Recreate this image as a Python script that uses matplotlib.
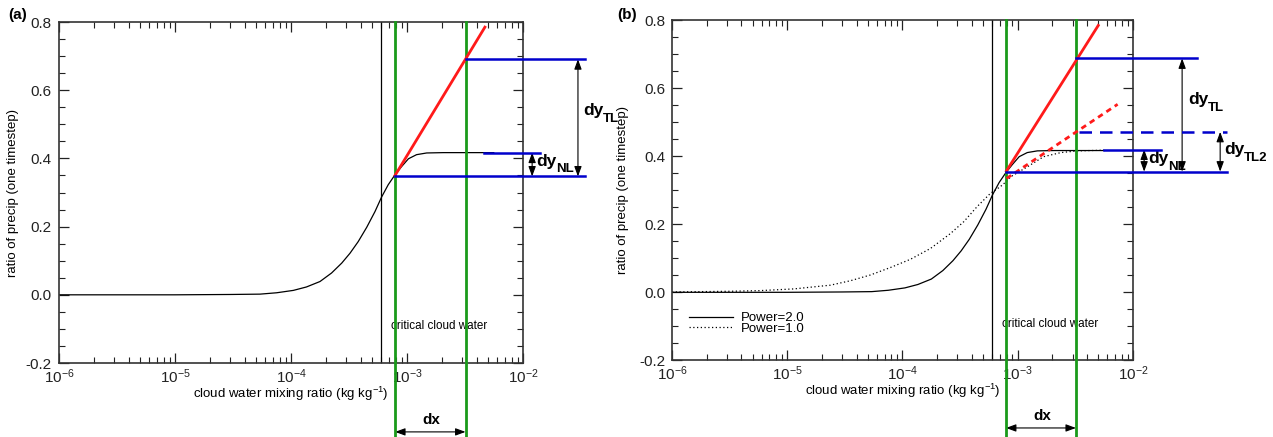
import matplotlib
matplotlib.use('Agg')
import matplotlib.pyplot as plt
from matplotlib.ticker import MultipleLocator, LogLocator

plt.rcParams['font.family'] = ['Liberation Sans', 'DejaVu Sans']
plt.rcParams['mathtext.fontset'] = 'custom'
plt.rcParams['mathtext.rm'] = 'Liberation Sans'
plt.rcParams['mathtext.it'] = 'Liberation Sans:italic'
plt.rcParams['mathtext.bf'] = 'Liberation Sans:bold'
plt.rcParams['axes.unicode_minus'] = False

# power=2 curve
q_pow2 = [1e-6, 1e-5, 3.0e-5, 5.41e-5, 7.53e-5, 1.05e-4, 1.36e-4, 1.78e-4, 2.24e-4,
          2.74e-4, 3.23e-4, 3.80e-4, 4.50e-4, 5.30e-4, 6.05e-4, 6.90e-4, 7.89e-4,
          8.99e-4, 1.03e-3, 1.21e-3, 1.48e-3, 2.06e-3, 4.55e-3, 5.6e-3]
r_pow2 = [0.0, 0.0, 0.001, 0.002, 0.006, 0.013, 0.023, 0.039, 0.064,
          0.093, 0.122, 0.156, 0.198, 0.244, 0.287, 0.323, 0.352,
          0.376, 0.399, 0.411, 0.416, 0.417, 0.417, 0.417]

# power=1 curve (panel b)
q_pow1 = [1e-6, 3.16e-6, 5.82e-6, 1.14e-5, 2.37e-5, 3.53e-5, 5.27e-5, 7.87e-5,
          1.17e-4, 1.75e-4, 2.61e-4, 3.41e-4, 4.44e-4, 5.79e-4, 7.08e-4, 8.09e-4,
          8.69e-4, 1.21e-3, 1.68e-3, 2.37e-3, 3.30e-3, 5.6e-3]
r_pow1 = [0.001, 0.003, 0.005, 0.010, 0.021, 0.034, 0.051, 0.073,
          0.097, 0.129, 0.173, 0.208, 0.252, 0.291, 0.311, 0.328,
          0.340, 0.369, 0.399, 0.411, 0.416, 0.418]

q_crit = 6.0e-4          # critical cloud water
q_x0 = 7.9e-4            # left green line
q_x1 = 3.2e-3            # right green line

# tangent lines: (x start, x end), (y start, y end)
tl_a = ([7.89e-4, 4.7e-3], [0.350, 0.785])
tl_b = ([7.98e-4, 5.0e-3], [0.357, 0.785])
tl2_b = ([8.0e-4, 7.36e-3], [0.335, 0.553])

# levels
y_base_a, y_tl_a, y_nl_a = 0.347, 0.691, 0.417
y_base_b, y_tl_b, y_nl_b, y_tl2_b = 0.355, 0.688, 0.420, 0.472

RED = '#ff1a1a'
BLUE = '#0000cc'
GREEN = '#1a9a1a'


def setup(ax):
    ax.set_xscale('log')
    ax.set_xlim(1e-6, 1e-2)
    ax.set_ylim(-0.2, 0.8)
    ax.yaxis.set_major_locator(MultipleLocator(0.2))
    ax.yaxis.set_minor_locator(MultipleLocator(0.05))
    ax.xaxis.set_major_locator(LogLocator(base=10, numticks=10))
    ax.xaxis.set_minor_locator(LogLocator(base=10, subs=range(2, 10), numticks=10))
    ax.tick_params(which='both', direction='in', top=True, right=True, labelsize=11,
                   colors='#222222')
    ax.tick_params(which='major', length=7, width=0.9)
    ax.tick_params(which='minor', length=4, width=0.8)
    ax.tick_params(axis='x', pad=3)
    ax.tick_params(axis='y', pad=5)
    for s in ax.spines.values():
        s.set_linewidth(1.2)
        s.set_color('#333333')
    ax.set_xlabel('cloud water mixing ratio (kg kg$^{-1}$)', fontsize=9.5)
    ax.set_ylabel('ratio of precip (one timestep)', fontsize=9.5)
    ax.xaxis.set_label_coords(0.5, -0.063)


def arrow(ax, p1, p2):
    ax.annotate('', xy=p1, xytext=p2, annotation_clip=False,
                arrowprops=dict(arrowstyle='<|-|>,head_length=0.6,head_width=0.22',
                                color='k', lw=0.8, shrinkA=0, shrinkB=0))


def dylabel(ax, x, y, sub):
    ax.text(x, y, 'dy', fontsize=12.5, fontweight='bold', ha='left', va='center',
            clip_on=False)
    ax.annotate(sub, xy=(x, y), xytext=(14.5, -6), textcoords='offset points',
                fontsize=9.5, fontweight='bold', ha='left', va='center',
                annotation_clip=False)


def common(ax, tl, dx_y):
    ax.plot([q_crit, q_crit], [-0.2, 0.8], color='k', lw=0.9)
    for xg in (q_x0, q_x1):
        ax.plot([xg, xg], [-0.43, 0.8], color=GREEN, lw=2.0, clip_on=False, zorder=4)
    ax.plot(tl[0], tl[1], color=RED, lw=2.0, zorder=5)
    ax.text(7.3e-4, -0.092, 'critical cloud water', fontsize=8.4, ha='left', va='center')
    arrow(ax, (q_x0, dx_y), (q_x1, dx_y))
    ax.text(1.62e-3, dx_y + 0.035, 'dx', fontsize=11, fontweight='bold',
            ha='center', va='center', clip_on=False)


fig = plt.figure(figsize=(12.73, 4.37), dpi=100)
ax1 = fig.add_axes([0.0463, 0.1693, 0.3645, 0.7803])
ax2 = fig.add_axes([0.5279, 0.1755, 0.3621, 0.7780])

# ---- panel (a)
setup(ax1)
ax1.yaxis.set_label_coords(-0.086, 0.5)
ax1.plot(q_pow2, r_pow2, color='k', lw=0.9)
common(ax1, tl_a, -0.402)
ax1.plot([q_x0, 0.0342], [y_base_a, y_base_a], color=BLUE, lw=1.8, clip_on=False, zorder=6)
ax1.plot([q_x1, 0.0342], [y_tl_a, y_tl_a], color=BLUE, lw=1.8, clip_on=False, zorder=6)
ax1.plot([4.6e-3, 0.014], [y_nl_a, y_nl_a], color=BLUE, lw=1.8, clip_on=False, zorder=6)
arrow(ax1, (0.0298, y_tl_a), (0.0298, y_base_a))
arrow(ax1, (0.012, y_nl_a), (0.012, y_base_a))
dylabel(ax1, 0.0329, 0.540, 'TL')
dylabel(ax1, 0.0129, 0.392, 'NL')

# ---- panel (b)
setup(ax2)
ax2.yaxis.set_label_coords(-0.093, 0.5)
ax2.plot(q_pow2, r_pow2, color='k', lw=0.9, label='Power=2.0')
ax2.plot(q_pow1, r_pow1, color='k', lw=0.9, ls=(0, (1, 2)), label='Power=1.0')
common(ax2, tl_b, -0.399)
ax2.plot(tl2_b[0], tl2_b[1], color=RED, lw=2.0, ls=(0, (2, 1.6)), zorder=5)
ax2.plot([q_x0, 0.0656], [y_base_b, y_base_b], color=BLUE, lw=1.8, clip_on=False, zorder=6)
ax2.plot([q_x1, 0.036], [y_tl_b, y_tl_b], color=BLUE, lw=1.8, clip_on=False, zorder=6)
ax2.plot([3.4e-3, 0.0656], [y_tl2_b, y_tl2_b], color=BLUE, lw=1.8, ls=(0, (5, 3.2)),
         clip_on=False, zorder=6)
ax2.plot([5.6e-3, 0.0175], [y_nl_b, y_nl_b], color=BLUE, lw=1.8, clip_on=False, zorder=6)
arrow(ax2, (0.0267, y_tl_b), (0.0267, y_base_b))
arrow(ax2, (0.0125, y_nl_b), (0.0125, y_base_b))
arrow(ax2, (0.0571, y_tl2_b), (0.0571, y_base_b))
dylabel(ax2, 0.0301, 0.567, 'TL')
dylabel(ax2, 0.0135, 0.393, 'NL')
dylabel(ax2, 0.0618, 0.420, 'TL2')

ax2.legend(loc='upper left', bbox_to_anchor=(0.037, 0.142), frameon=False, fontsize=9.5,
           handlelength=3.3, handletextpad=0.6, labelspacing=-0.15, borderpad=0,
           borderaxespad=0)

fig.text(8 / 1273, 1 - 15 / 437, '(a)', fontsize=11, fontweight='bold', va='center')
fig.text(617 / 1273, 1 - 15 / 437, '(b)', fontsize=11, fontweight='bold', va='center')

fig.savefig('out.png', dpi=100)
